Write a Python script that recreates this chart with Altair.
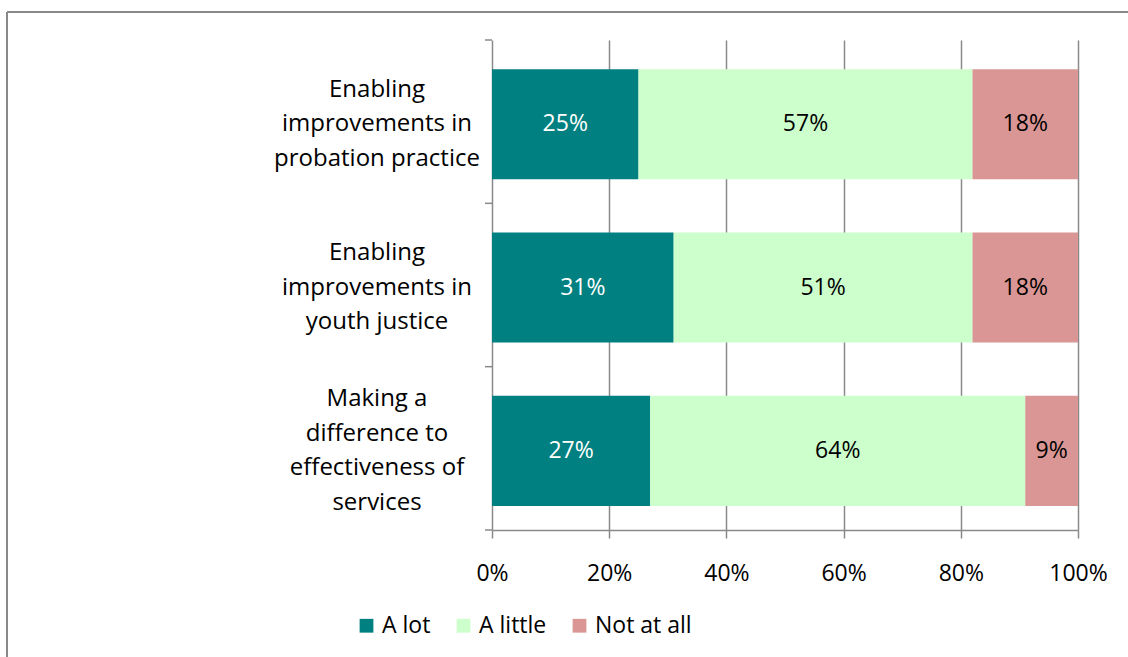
import altair as alt
import pandas as pd

# Survey results: share of respondents per answer, by statement
categories = [
    "Enabling\nimprovements in\nprobation practice",
    "Enabling\nimprovements in\nyouth justice",
    "Making a\ndifference to\neffectiveness of\nservices",
]
responses = ["A lot", "A little", "Not at all"]
a_lot = [25, 31, 27]
a_little = [57, 51, 64]
not_at_all = [18, 18, 9]
x_ticks = [0, 20, 40, 60, 80, 100]
colors = ["#008080", "#CCFFCC", "#D99694"]

rows = []
for series_rank, (resp, vals) in enumerate(zip(responses, [a_lot, a_little, not_at_all])):
    for cat, v in zip(categories, vals):
        rows.append({"category": cat, "response": resp, "value": v, "rank": series_rank})
df = pd.DataFrame(rows)

W, H = 586, 490
FONT = "Open Sans"
FS = 23
CAT_FS = 24
LINE_H = 34.5
GRID = "#8a8a8a"

band_scale = alt.Scale(paddingInner=0.326, paddingOuter=0.163, align=0.547)

base = alt.Chart(df)

bars = base.mark_bar().encode(
    y=alt.Y("category:N", sort=categories, scale=band_scale, axis=None),
    x=alt.X(
        "value:Q",
        stack="zero",
        scale=alt.Scale(domain=[0, 100]),
        axis=alt.Axis(
            title=None, values=x_ticks, labelExpr="datum.value + '%'",
            grid=True, gridColor=GRID, gridWidth=1.5,
            domainColor=GRID, domainWidth=1.5,
            tickColor=GRID, tickWidth=1.5, tickSize=8,
            labelPadding=24, labelFontSize=FS, labelFont=FONT, labelColor="black",
            labelFlush=False,
        ),
    ),
    color=alt.Color(
        "response:N",
        sort=responses,
        scale=alt.Scale(domain=responses, range=colors),
        legend=alt.Legend(
            title=None, orient="none", direction="horizontal",
            legendX=-137, legendY=574,
            symbolType="square", symbolSize=190, symbolStrokeWidth=0,
            labelFontSize=FS, labelFont=FONT, labelColor="black",
            labelOffset=4, columnPadding=21,
        ),
    ),
    order=alt.Order("rank:Q"),
)

bar_text = (
    base.transform_stack(
        stack="value", groupby=["category"], as_=["v0", "v1"],
        sort=[alt.SortField("rank")],
    )
    .transform_calculate(mid="(datum.v0 + datum.v1) / 2", label="datum.value + '%'")
    .mark_text(fontSize=FS, font=FONT)
    .encode(
        y=alt.Y("category:N", sort=categories, axis=None),
        x=alt.X("mid:Q"),
        text=alt.Text("label:N"),
        color=alt.condition(alt.datum.response == "A lot", alt.value("white"), alt.value("black")),
    )
)

# Multi-line category labels, each block centred on its band
label_layers = []
for n_lines in sorted({c.count("\n") + 1 for c in categories}):
    label_layers.append(
        base.transform_filter(alt.datum.response == "A lot")
        .transform_filter(f"length(split(datum.category, '\\n')) == {n_lines}")
        .mark_text(
            font=FONT, fontSize=CAT_FS, color="black", align="center",
            baseline="middle", lineBreak="\n", lineHeight=LINE_H,
            dy=-(n_lines - 1) / 2 * LINE_H,
        )
        .encode(
            y=alt.Y("category:N", sort=categories, axis=None),
            x=alt.value(-115),
            text=alt.Text("category:N"),
        )
    )

main = alt.layer(bars, bar_text, *label_layers)

# Tick marks on the category axis at the boundaries between categories
band_ticks = (
    base.transform_filter(alt.datum.response == "A lot")
    .mark_rule(color=GRID, strokeWidth=1.5)
    .encode(
        y=alt.Y(
            "category:N", sort=categories, bandPosition=0,
            scale=alt.Scale(type="band", paddingInner=0, paddingOuter=0),
            axis=None,
        ),
        x=alt.value(-7),
        x2=alt.value(0),
    )
)

one = alt.Chart(pd.DataFrame({"k": [0]}))
bottom_tick = one.mark_rule(color=GRID, strokeWidth=1.5).encode(
    y=alt.value(H), x=alt.value(-7), x2=alt.value(0)
)

# Outer frame
frame_top = one.mark_rule(color="#888888", strokeWidth=2).encode(
    y=alt.value(-28), x=alt.value(-485), x2=alt.value(W + 200)
)
frame_left = one.mark_rule(color="#888888", strokeWidth=2).encode(
    x=alt.value(-485), y=alt.value(-28), y2=alt.value(H + 200)
)

chart = (
    alt.layer(main, band_ticks, bottom_tick, frame_top, frame_left)
    .resolve_scale(y="independent")
    .properties(
        width=W, height=H,
        autosize=alt.AutoSizeParams(type="none"),
        padding={"left": 492, "top": 40, "right": 50, "bottom": 127},
        background="white",
    )
    .configure_view(stroke=None)
)

chart.save("out.html", embed_options={"renderer": "svg", "actions": False})
